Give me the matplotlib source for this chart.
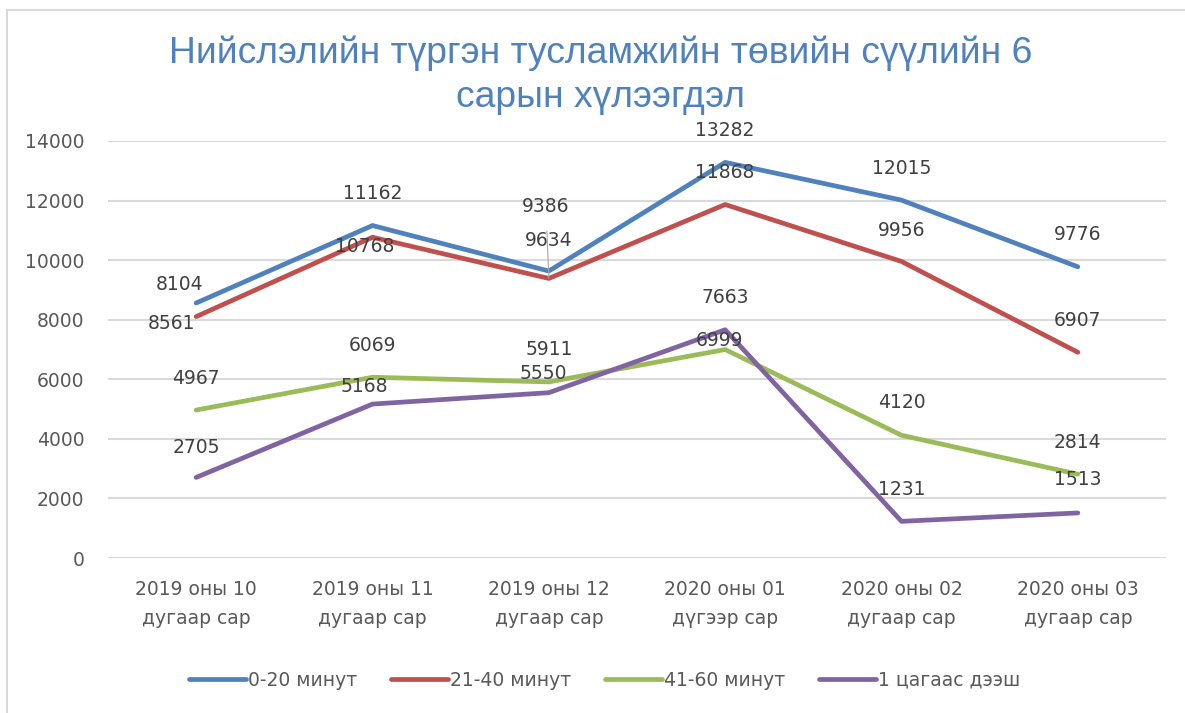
import matplotlib.pyplot as plt
from matplotlib.lines import Line2D

# data
months = ["2019 оны 10\nдугаар сар", "2019 оны 11\nдугаар сар", "2019 оны 12\nдугаар сар",
          "2020 оны 01\nдүгээр сар", "2020 оны 02\nдугаар сар", "2020 оны 03\nдугаар сар"]
series_names = ["0-20 минут", "21-40 минут", "41-60 минут", "1 цагаас дээш"]
min_0_20 = [8561, 11162, 9634, 13282, 12015, 9776]
min_21_40 = [8104, 10768, 9386, 11868, 9956, 6907]
min_41_60 = [4967, 6069, 5911, 6999, 4120, 2814]
over_1h = [2705, 5168, 5550, 7663, 1231, 1513]

colors = ["#4F81BD", "#C0504D", "#9BBB59", "#8064A2"]

# label offsets in pixels (dx, dy) - mimic the hand placed Excel labels
label_dx = [[-25, 0, 0, 0, 0, 0], [-17, -8, -3, 0, 0, 0],
            [0, 0, 0, -6, 0, 0], [0, -8, -6, 0, 0, 0]]
label_dy = [[-20, 32, 31, 32, 32, 32], [32, -9, 72, 32, 31, 32],
            [32, 32, 32, 9, 33, 32], [30, 18, 19, 32, 32, 33]]

plt.rcParams["font.family"] = ["DejaVu Sans"]

fig = plt.figure(figsize=(11.85, 7.13), dpi=100)
# chart border (only left and top edges show in the picture)
bx, by = 7 / 1185, 1 - 10 / 713
fig.add_artist(Line2D([bx, bx], [0, by], transform=fig.transFigure, color="#D9D9D9", lw=1.5))
fig.add_artist(Line2D([bx, 1], [by, by], transform=fig.transFigure, color="#D9D9D9", lw=1.5))

ax = fig.add_axes([108 / 1185, 155 / 713, 1058 / 1185, 417 / 713])
x = list(range(len(months)))
all_series = [min_0_20, min_21_40, min_41_60, over_1h]

for i, vals in enumerate(all_series):
    ax.plot(x, vals, color=colors[i], lw=3.4, solid_capstyle="round",
            solid_joinstyle="round", label=series_names[i], zorder=3)

for i, vals in enumerate(all_series):
    for j, v in enumerate(vals):
        dx, dy = label_dx[i][j], label_dy[i][j]
        if dy > 50:
            ax.annotate(str(v), (j, v), xytext=(dx, dy), textcoords="offset pixels",
                        ha="center", va="center", fontsize=13.5, color="#404040", zorder=4,
                        arrowprops=dict(arrowstyle="-", color="#A6A6A6", lw=0.8,
                                        shrinkA=9, shrinkB=0))
        else:
            ax.annotate(str(v), (j, v), xytext=(dx, dy), textcoords="offset pixels",
                        ha="center", va="center", fontsize=13.5, color="#404040", zorder=4)

ax.set_xlim(-0.5, len(months) - 0.5)
ax.set_ylim(0, 14000)
ax.set_yticks(range(0, 14001, 2000))
ax.set_xticks(x)
ax.set_xticklabels(months, linespacing=1.65)
ax.tick_params(axis="y", length=0, pad=17, labelsize=13.5, labelcolor="#595959")
ax.tick_params(axis="x", length=0, pad=16, labelsize=13.5, labelcolor="#595959")
ax.grid(axis="y", color="#D9D9D9", lw=1.5, zorder=0)
ax.set_axisbelow(True)
for s in ax.spines.values():
    s.set_visible(False)

fig.text(601 / 1185, 1 - 75 / 713,
         "Нийслэлийн түргэн тусламжийн төвийн сүүлийн 6\nсарын хүлээгдэл",
         ha="center", va="center", fontsize=26.8, color="#4F81BD",
         family=["Liberation Sans", "DejaVu Sans"], linespacing=1.32)

fig.legend(loc="center", bbox_to_anchor=(605 / 1185, 1 - 680 / 713), ncol=4, frameon=False,
           fontsize=13.5, handlelength=3, handletextpad=0.15, columnspacing=1.8,
           labelcolor="#595959")

plt.savefig("out.png", dpi=100)
